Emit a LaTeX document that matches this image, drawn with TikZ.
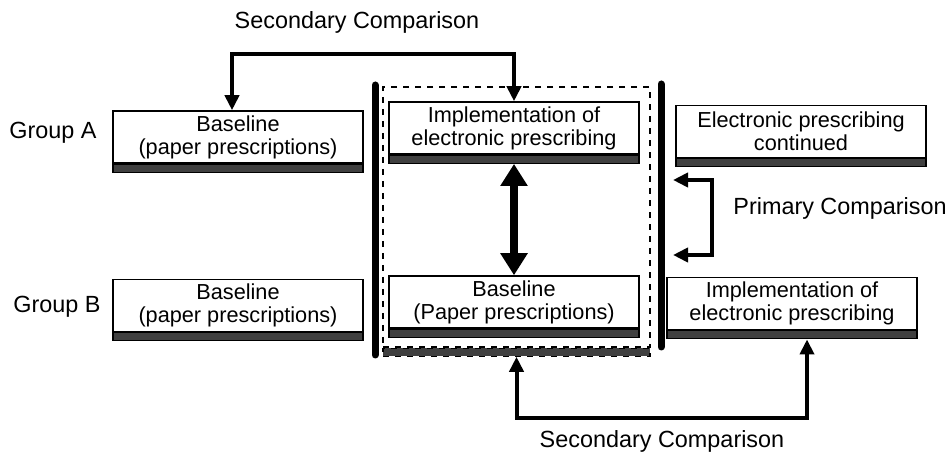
\documentclass[tikz,border=0pt]{standalone}
\usepackage{fontspec}
\setmainfont{Liberation Sans}
\usetikzlibrary{positioning,arrows.meta}
\definecolor{bargray}{HTML}{404040}
\newcommand{\boxfont}{\fontsize{10.85}{11.5}\selectfont}
\newcommand{\labfont}{\fontsize{11.7}{14}\selectfont}

\begin{document}
\begin{tikzpicture}[x=0.5pt, y=-0.5pt, node distance=0pt,
                    box/.style      = {rectangle,
                                       draw,
                                       fill = white,
                                       line width = 0.75pt,
                                       minimum width = 125pt,
                                       minimum height = 26pt,
                                       inner sep = 0pt,
                                       align = center,
                                       font = \boxfont},
                    bar/.style      = {rectangle,
                                       draw,
                                       fill = bargray,
                                       line width = 0.6pt,
                                       minimum width = 125pt,
                                       minimum height = 4pt,
                                       inner sep = 0pt},
                    frame/.style    = {rectangle,
                                       draw,
                                       dashed,
                                       line width = 0.6pt,
                                       minimum width = 133.5pt,
                                       minimum height = 130pt,
                                       inner sep = 0pt},
                    framebar/.style = {bar,
                                       dashed,
                                       minimum width = 133.5pt},
                    grplabel/.style = {inner sep = 0pt, font = \labfont},
                    divider/.style  = {line width = 3.5pt, line cap = round},
                    cmp/.style      = {line width = 2pt,
                                       {Triangle[length=7.5pt,width=7pt]}-{Triangle[length=7.5pt,width=7pt]}},
                    big/.style      = {line width = 4pt,
                                       {Triangle[length=11pt,width=13pt]}-{Triangle[length=11pt,width=13pt]}}]

\useasboundingbox (0,0) rectangle (951,453);

% period of the trial under study
\node[frame] (trial) at (516.5,217) {};
\node[framebar] (trialbar) [below = of trial] {};

\draw[divider] (375,85) -- (375,355);
\draw[divider] (661,84) -- (661,347);

% group A
\node[grplabel] (grpAlbl) at (53,133) {Group A};
\node[box] (grpA) at (238,137) {Baseline\\(paper prescriptions)};
\node[bar] (grpAbar) [below = of grpA] {};
\node[box] (midTop) at (514,128) {Implementation of\\electronic prescribing};
\node[bar] (midTopbar) [below = of midTop] {};
\node[box] (rightTop) at (801,131.5) {Electronic prescribing\\continued};
\node[bar] (rightTopbar) [below = of rightTop] {};

% group B
\node[grplabel] (grpBlbl) at (57,307) {Group B};
\node[box] (grpB) at (238,305.5) {Baseline\\(paper prescriptions)};
\node[bar] (grpBbar) [below = of grpB] {};
\node[box] (midBot) at (514,302) {Baseline\\(Paper prescriptions)};
\node[bar] (midBotbar) [below = of midBot] {};
\node[box] (rightBot) at (792,303.5) {Implementation of\\electronic prescribing};
\node[bar] (rightBotbar) [below = of rightBot] {};

% comparisons
\node[grplabel] (secTop) at (357,22) {Secondary Comparison};
\draw[cmp] ([xshift=-3pt]grpA.north) -- ++(0,-56) -| (midTop.north);

\draw[big] (midTopbar.south) -- (midBot.north);

\coordinate (primA) at (673,180);
\coordinate (primB) at (673,255);
\draw[cmp] (primA) -- ++(39,0) |- (primB);
\node[grplabel, anchor = west] (prim) at (733,208) {Primary Comparison};

\draw[cmp] (trialbar.south) -- ++(0,61) -| ([xshift=7.5pt]rightBotbar.south);
\node[grplabel] (secBot) at (662,441) {Secondary Comparison};

\end{tikzpicture}
\end{document}
